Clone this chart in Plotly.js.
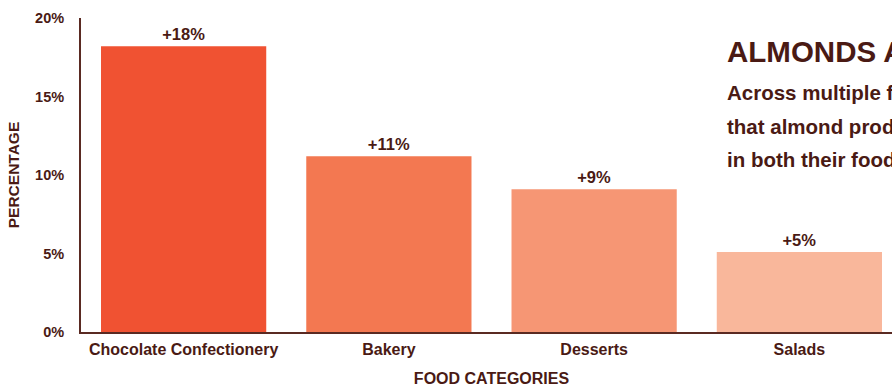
<!DOCTYPE html>
<html>
<head>
<meta charset="utf-8">
<script src="https://cdn.plot.ly/plotly-3.0.1.min.js"></script>
<style>
html,body{margin:0;padding:0;overflow:hidden;background:#fff;}
#chart{width:940px;height:387px;}
</style>
</head>
<body>
<div id="chart"></div>
<script>
const categories = ["Chocolate Confectionery", "Bakery", "Desserts", "Salads"];
const values = [18.2, 11.2, 9.1, 5.1];
const labels = ["+18%", "+11%", "+9%", "+5%"];
const barColors = ["#F05232", "#F37851", "#F69674", "#F9B79B"];
const yTicks = [0, 5, 10, 15, 20];
const titleText = "ALMONDS ADD VALUE";
const subtitleLines = [
  "Across multiple food categories, consumers say",
  "that almond products are an important factor",
  "in both their food and snack choices"
];

const dark = "#4A1A14";
const fontFam = "Liberation Sans, Arial, Helvetica, sans-serif";

const trace = {
  type: "bar",
  x: categories,
  y: values,
  text: labels,
  textposition: "outside",
  cliponaxis: false,
  textfont: {family: fontFam, size: 16.5, color: dark, weight: 700},
  marker: {color: barColors},
  hoverinfo: "none"
};

const annotations = [{
  xref: "paper", yref: "paper", x: 0.785, y: 0.892,
  xanchor: "left", yanchor: "middle", showarrow: false,
  text: titleText,
  font: {family: fontFam, size: 29.5, color: dark, weight: 700}
}];
const subY = [0.764, 0.656, 0.548];
subtitleLines.forEach((t, i) => annotations.push({
  xref: "paper", yref: "paper", x: 0.785, y: subY[i],
  xanchor: "left", yanchor: "middle", showarrow: false,
  text: t,
  font: {family: fontFam, size: 20.5, color: dark, weight: 700}
}));

const layout = {
  width: 940, height: 387,
  margin: {l: 81, r: 38, t: 18, b: 55},
  paper_bgcolor: "#fff", plot_bgcolor: "#fff",
  bargap: 0.195,
  showlegend: false,
  xaxis: {
    showline: true, linecolor: "#5A2A22", linewidth: 2,
    showgrid: false, zeroline: false,
    ticks: "outside", ticklen: 2, tickcolor: "rgba(0,0,0,0)",
    tickfont: {family: fontFam, size: 16, color: dark, weight: 700},
    title: {text: "FOOD CATEGORIES", standoff: 17,
      font: {family: fontFam, size: 16, color: dark, weight: 700}}
  },
  yaxis: {
    range: [0, 20],
    showline: true, linecolor: "#5A2A22", linewidth: 2,
    showgrid: false, zeroline: false,
    tickvals: yTicks, ticktext: yTicks.map(v => v + "%"),
    ticks: "outside", ticklen: 12, tickcolor: "rgba(0,0,0,0)",
    tickfont: {family: fontFam, size: 14.5, color: dark, weight: 700},
    title: {text: "PERCENTAGE", standoff: 12,
      font: {family: fontFam, size: 15.5, color: dark, weight: 700}}
  },
  annotations: annotations
};

Plotly.newPlot("chart", [trace], layout, {displayModeBar: false, staticPlot: true});
</script>
</body>
</html>
